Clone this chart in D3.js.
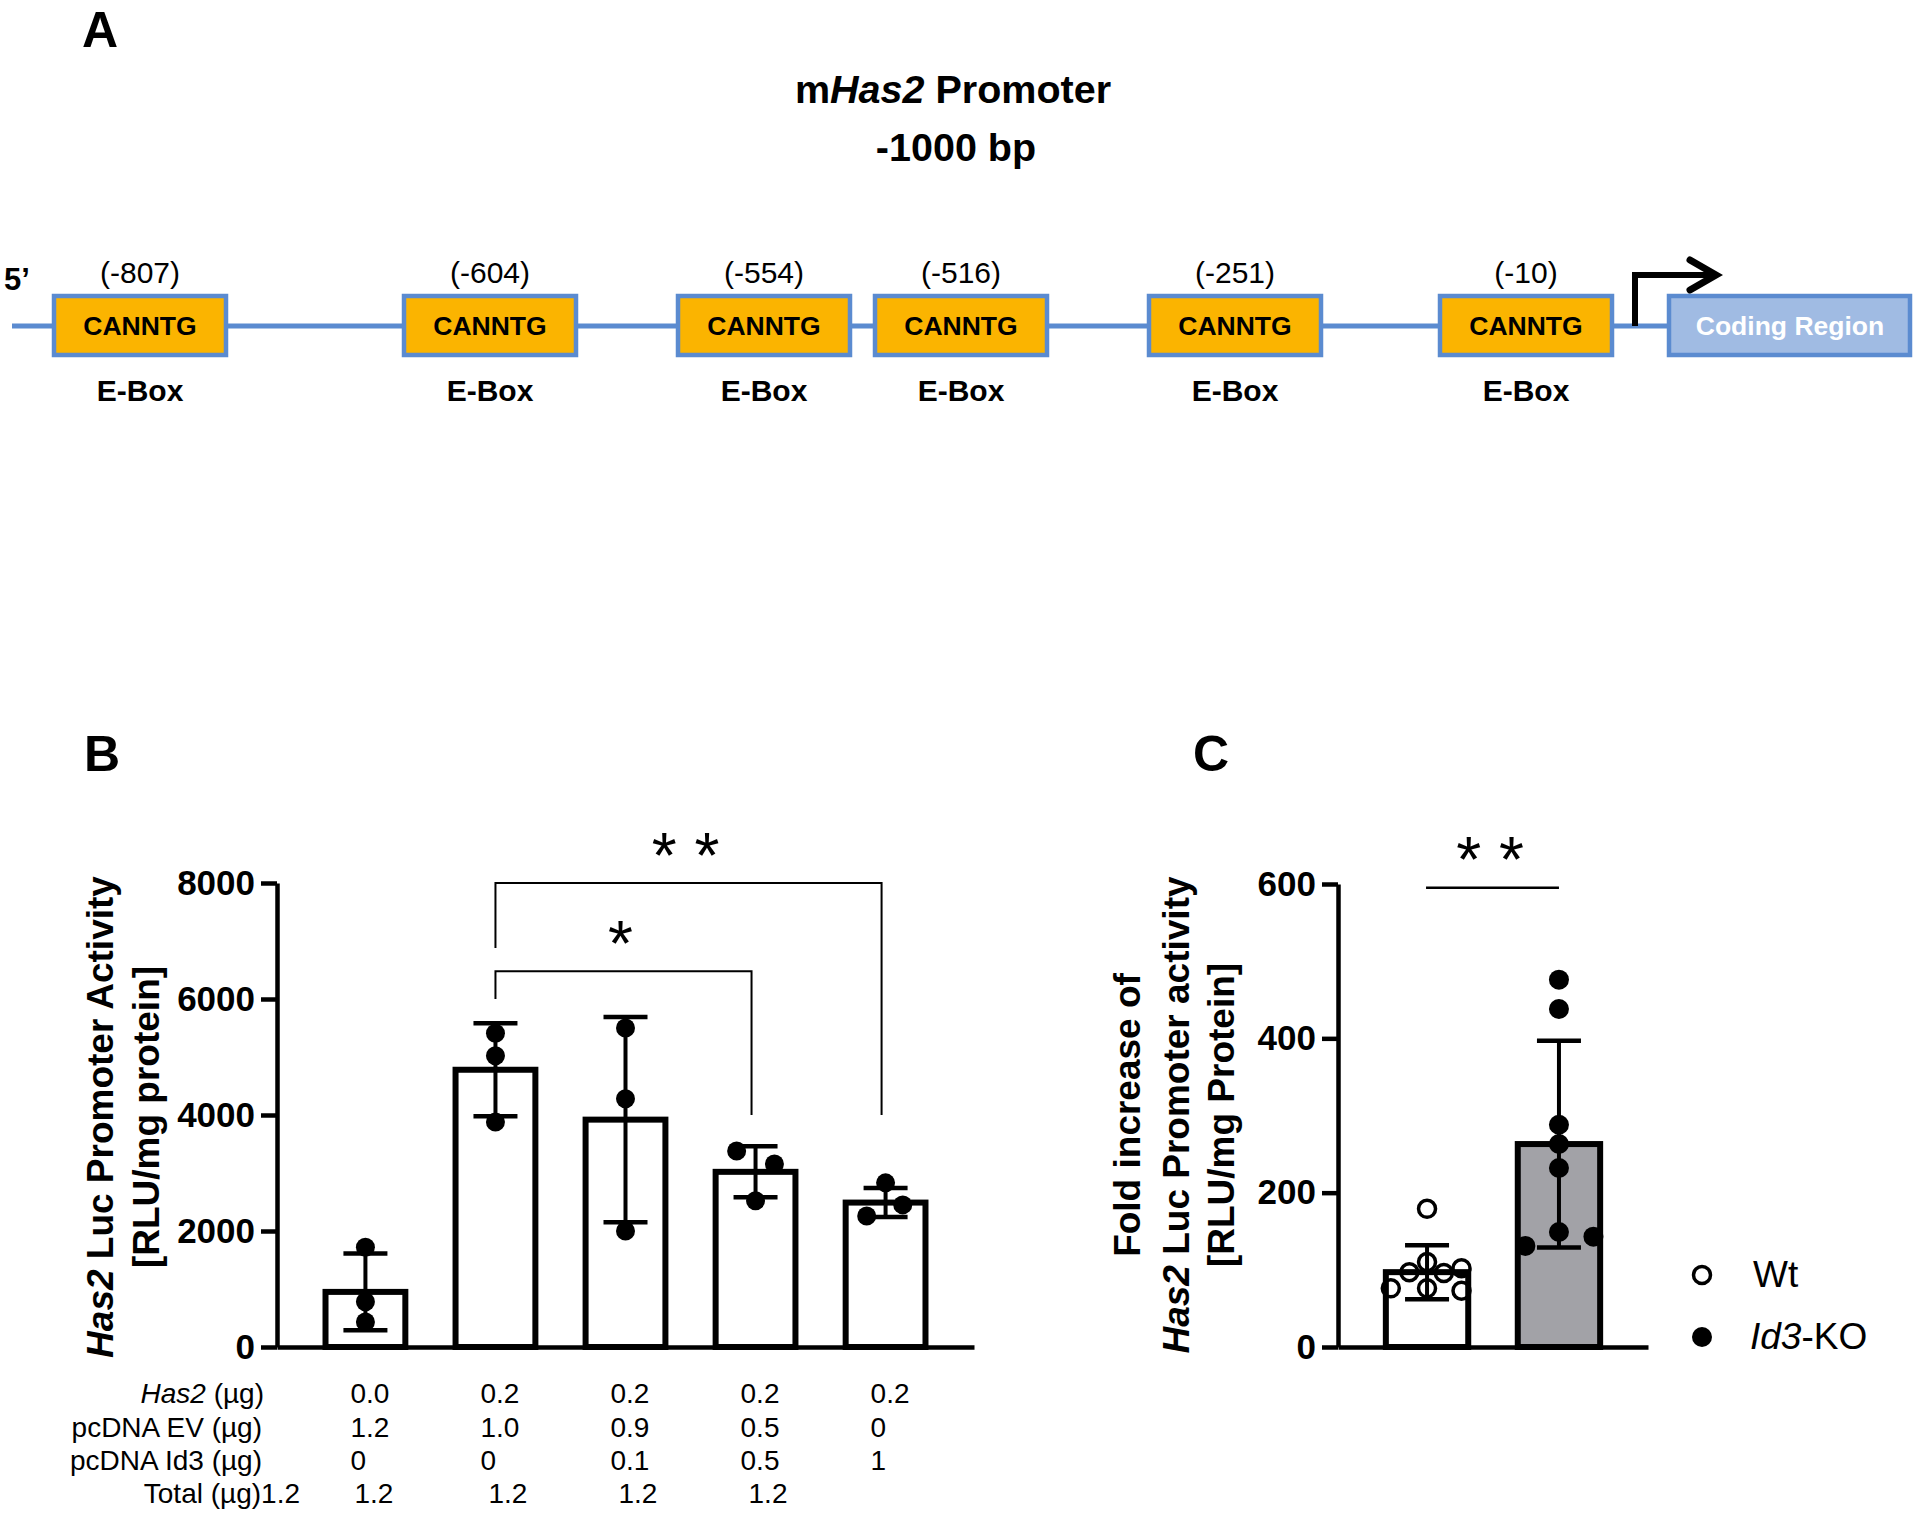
<!DOCTYPE html>
<html>
<head>
<meta charset="utf-8">
<script src="https://cdn.jsdelivr.net/npm/d3@7"></script>
<style>
  html, body { margin: 0; padding: 0; background: #fff; }
  svg { display: block; font-family: "Liberation Sans", Arial, Helvetica, sans-serif; }
</style>
</head>
<body>
<svg id="fig" width="1920" height="1518"></svg>
<script>
// ---------------- DATA ----------------
// Panel A: E-box positions on the mHas2 promoter (bp upstream)
const eboxPositions = [-807, -604, -554, -516, -251, -10];
const eboxLabels = ["(-807)", "(-604)", "(-554)", "(-516)", "(-251)", "(-10)"];
const eboxSequence = "CANNTG";

// Panel B: promoter activity (RLU/mg protein)
const conditionsB = ["cond1", "cond2", "cond3", "cond4", "cond5"];
const meansB = [950, 4780, 3920, 3020, 2490];
const sdB = [660, 800, 1770, 440, 250];
const pointsB = [
  [1720, 780, 430],
  [5410, 5020, 3880],
  [5500, 4280, 2000],
  [3380, 3155, 2520],
  [2830, 2450, 2260]
];
const jitterB = [
  [0, 0, 0],
  [0, 0, 0],
  [0, 0, 0],
  [-0.22, 0.22, 0],
  [0, 0.2, -0.22]
];
const yTicksB = [0, 2000, 4000, 6000, 8000];
const bracketsB = [
  { from: 1, to: 4, top: 8000, leftEnd: 6880, rightEnd: 4000, label: "* *" },
  { from: 1, to: 3, top: 6480, leftEnd: 6000, rightEnd: 4000, label: "*" }
];
const tableRowLabels = ["Has2 (µg)", "pcDNA EV (µg)", "pcDNA Id3 (µg)", "Total (µg)1.2"];
const tableHas2 = ["0.0", "0.2", "0.2", "0.2", "0.2"];
const tableEV = ["1.2", "1.0", "0.9", "0.5", "0"];
const tableId3 = ["0", "0", "0.1", "0.5", "1"];
const tableTotal = ["1.2", "1.2", "1.2", "1.2"];

// Panel C: fold increase
const groupsC = ["Wt", "Id3-KO"];
const meansC = [97, 263];
const sdC = [35, 134];
const pointsC = [
  [179, 97, 110, 96, 102, 76, 76, 73],
  [476, 438, 288, 263, 232, 149, 131, 143]
];
const jitterC = [
  [0, -0.2, 0, 0.19, 0.39, -0.41, 0, 0.39],
  [0, 0, 0, 0, 0, 0, -0.38, 0.39]
];
const yTicksC = [0, 200, 400, 600];
const sigC = { from: 0, to: 1, y: 595, label: "* *" };

// ---------------- DRAW ----------------
const svg = d3.select("#fig");
const BLUE = "#5B8BD0";
const ORANGE = "#FBB400";

// ===== Panel A =====
const gA = svg.append("g");
gA.append("text").attr("x", 82).attr("y", 47).attr("font-size", 50).attr("font-weight", "bold").text("A");

const t1 = gA.append("text").attr("x", 953).attr("y", 103).attr("text-anchor", "middle")
  .attr("font-size", 39.5).attr("font-weight", "bold");
t1.append("tspan").text("m");
t1.append("tspan").attr("font-style", "italic").text("Has2");
t1.append("tspan").text(" Promoter");
gA.append("text").attr("x", 956).attr("y", 161).attr("text-anchor", "middle")
  .attr("font-size", 39.5).attr("font-weight", "bold").text("-1000 bp");

// schematic (not to scale) layout of E-box slots along the promoter
const xA = d3.scaleLinear().domain(eboxPositions).range([140, 490, 764, 961, 1235, 1526]);
const boxW = 172, boxTop = 296, boxH = 59, lineY = 326;

gA.append("line").attr("x1", 12).attr("x2", 1668).attr("y1", lineY).attr("y2", lineY)
  .attr("stroke", BLUE).attr("stroke-width", 5);

gA.append("text").attr("x", 4).attr("y", 290).attr("font-size", 31).attr("font-weight", "bold").text("5’");

const eb = gA.selectAll("g.ebox").data(eboxPositions).join("g").attr("class", "ebox");
eb.append("rect")
  .attr("x", d => xA(d) - boxW / 2).attr("y", boxTop).attr("width", boxW).attr("height", boxH)
  .attr("fill", ORANGE).attr("stroke", BLUE).attr("stroke-width", 4.5);
eb.append("text").attr("x", d => xA(d)).attr("y", boxTop + boxH / 2 + 9.5).attr("text-anchor", "middle")
  .attr("font-size", 26.5).attr("font-weight", "bold").text(eboxSequence);
eb.append("text").attr("x", d => xA(d)).attr("y", 283).attr("text-anchor", "middle")
  .attr("font-size", 30).text((d, i) => eboxLabels[i]);
eb.append("text").attr("x", d => xA(d)).attr("y", 401).attr("text-anchor", "middle")
  .attr("font-size", 30).attr("font-weight", "bold").text("E-Box");

// transcription start arrow
gA.append("path").attr("d", "M1635,326 V275 H1716").attr("fill", "none")
  .attr("stroke", "#000").attr("stroke-width", 6);
gA.append("path").attr("d", "M1690,260 L1716,275 L1690,290").attr("fill", "none")
  .attr("stroke", "#000").attr("stroke-width", 7).attr("stroke-linecap", "round").attr("stroke-linejoin", "miter");

// coding region
gA.append("rect").attr("x", 1669).attr("y", boxTop).attr("width", 241).attr("height", boxH)
  .attr("fill", "#A0BBE3").attr("stroke", BLUE).attr("stroke-width", 4.5);
gA.append("text").attr("x", 1790).attr("y", boxTop + boxH / 2 + 9.5).attr("text-anchor", "middle")
  .attr("font-size", 26.5).attr("font-weight", "bold").attr("fill", "#fff").text("Coding Region");

// ===== Panel B =====
const gB = svg.append("g");
gB.append("text").attr("x", 84).attr("y", 771).attr("font-size", 50).attr("font-weight", "bold").text("B");

const xB = d3.scaleBand().domain(conditionsB).range([277, 974]).paddingInner(0.34).paddingOuter(0.35);
const yB = d3.scaleLinear().domain([0, 8000]).range([1347, 883]);

function styleAxis(g) {
  g.select(".domain").attr("stroke", "#000").attr("stroke-width", 4.5);
  g.selectAll(".tick line").attr("stroke", "#000").attr("stroke-width", 4.5);
  g.selectAll(".tick text").attr("fill", "#000").attr("font-size", 35).attr("font-weight", "bold")
    .attr("font-family", "'Liberation Sans', Arial, sans-serif");
}

const axB = gB.append("g").attr("transform", "translate(277,0)")
  .call(d3.axisLeft(yB).tickValues(yTicksB).tickSize(16).tickSizeOuter(0).tickPadding(6).tickFormat(d3.format("d")));
styleAxis(axB);
const axBx = gB.append("g").attr("transform", `translate(0,${yB(0)})`)
  .call(d3.axisBottom(xB).tickValues([]).tickSizeOuter(0));
styleAxis(axBx);

const bwB = xB.bandwidth();
const cB = i => xB(conditionsB[i]) + bwB / 2;

gB.selectAll("rect.bar").data(meansB).join("rect").attr("class", "bar")
  .attr("x", (d, i) => cB(i) - (bwB - 6) / 2).attr("width", bwB - 6)
  .attr("y", d => yB(d)).attr("height", d => yB(0) - yB(d))
  .attr("fill", "#fff").attr("stroke", "#000").attr("stroke-width", 6);

function errBars(g, means, sds, cx, y, capW) {
  means.forEach((m, i) => {
    const x = cx(i);
    g.append("line").attr("x1", x).attr("x2", x).attr("y1", y(m - sds[i])).attr("y2", y(m + sds[i]))
      .attr("stroke", "#000").attr("stroke-width", 4);
    [m - sds[i], m + sds[i]].forEach(v => {
      g.append("line").attr("x1", x - capW / 2).attr("x2", x + capW / 2).attr("y1", y(v)).attr("y2", y(v))
        .attr("stroke", "#000").attr("stroke-width", 4.5);
    });
  });
}
errBars(gB, meansB, sdB, cB, yB, 44);

pointsB.forEach((arr, i) => {
  gB.selectAll(null).data(arr).join("circle")
    .attr("cx", (d, j) => cB(i) + jitterB[i][j] * bwB).attr("cy", d => yB(d)).attr("r", 9.5)
    .attr("fill", "#000");
});

// significance brackets
bracketsB.forEach(b => {
  const x1 = cB(b.from), x2 = cB(b.to) - 4;
  gB.append("path")
    .attr("d", `M${x1},${yB(b.leftEnd)} V${yB(b.top)} H${x2} V${yB(b.rightEnd)}`)
    .attr("fill", "none").attr("stroke", "#000").attr("stroke-width", 2);
  gB.append("text").attr("x", (x1 + x2) / 2 - 3).attr("y", yB(b.top) - 5)
    .attr("text-anchor", "middle").attr("font-size", 64).text(b.label);
});

// table under panel B
const rowBase = [1403, 1437, 1470, 1503];
const rowVals = [tableHas2, tableEV, tableId3];
const lab0 = gB.append("text").attr("x", 264).attr("y", rowBase[0]).attr("text-anchor", "end").attr("font-size", 28);
lab0.append("tspan").attr("font-style", "italic").text("Has2");
lab0.append("tspan").text(" (µg)");
gB.append("text").attr("x", 262).attr("y", rowBase[1]).attr("text-anchor", "end").attr("font-size", 28).text(tableRowLabels[1]);
gB.append("text").attr("x", 262).attr("y", rowBase[2]).attr("text-anchor", "end").attr("font-size", 28).text(tableRowLabels[2]);
gB.append("text").attr("x", 300).attr("y", rowBase[3]).attr("text-anchor", "end").attr("font-size", 28).text(tableRowLabels[3]);
rowVals.forEach((vals, r) => {
  gB.selectAll(null).data(vals).join("text")
    .attr("x", (d, i) => cB(i) - 15).attr("y", rowBase[r]).attr("font-size", 28).text(d => d);
});
gB.selectAll(null).data(tableTotal).join("text")
  .attr("x", (d, i) => cB(i) - (i === 0 ? 11 : 7)).attr("y", rowBase[3]).attr("font-size", 28).text(d => d);

// y title B
const tB = gB.append("g").attr("transform", "translate(100,1117) rotate(-90)");
const tB1 = tB.append("text").attr("text-anchor", "middle").attr("dominant-baseline", "central")
  .attr("font-size", 37).attr("font-weight", "bold");
tB1.append("tspan").attr("font-style", "italic").text("Has2");
tB1.append("tspan").text(" Luc Promoter Activity");
tB.append("text").attr("y", 46).attr("text-anchor", "middle").attr("dominant-baseline", "central")
  .attr("font-size", 37).attr("font-weight", "bold").text("[RLU/mg protein]");

// ===== Panel C =====
const gC = svg.append("g");
gC.append("text").attr("x", 1193).attr("y", 771).attr("font-size", 50).attr("font-weight", "bold").text("C");

const xC = d3.scaleBand().domain(groupsC).range([1338, 1648]).paddingInner(0.33).paddingOuter(0.34);
const yC = d3.scaleLinear().domain([0, 600]).range([1347, 884]);

const axC = gC.append("g").attr("transform", "translate(1338,0)")
  .call(d3.axisLeft(yC).tickValues(yTicksC).tickSize(16).tickSizeOuter(0).tickPadding(6).tickFormat(d3.format("d")));
styleAxis(axC);
const axCx = gC.append("g").attr("transform", `translate(0,${yC(0)})`)
  .call(d3.axisBottom(xC).tickValues([]).tickSizeOuter(0));
styleAxis(axCx);

const bwC = xC.bandwidth();
const cC = i => xC(groupsC[i]) + bwC / 2;
const fillC = ["#fff", "#A2A2A7"];

gC.selectAll("rect.bar").data(meansC).join("rect").attr("class", "bar")
  .attr("x", (d, i) => cC(i) - (bwC - 6) / 2).attr("width", bwC - 6)
  .attr("y", d => yC(d)).attr("height", d => yC(0) - yC(d))
  .attr("fill", (d, i) => fillC[i]).attr("stroke", "#000").attr("stroke-width", 6);

errBars(gC, meansC, sdC, cC, yC, 44);

pointsC[0].forEach((v, j) => {
  gC.append("circle").attr("cx", cC(0) + jitterC[0][j] * bwC).attr("cy", yC(v)).attr("r", 8.5)
    .attr("fill", "none").attr("stroke", "#000").attr("stroke-width", 3.5);
});
pointsC[1].forEach((v, j) => {
  gC.append("circle").attr("cx", cC(1) + jitterC[1][j] * bwC).attr("cy", yC(v)).attr("r", 10)
    .attr("fill", "#000");
});

// significance C
gC.append("line").attr("x1", cC(sigC.from) - 1).attr("x2", cC(sigC.to)).attr("y1", yC(sigC.y)).attr("y2", yC(sigC.y))
  .attr("stroke", "#000").attr("stroke-width", 2.5);
gC.append("text").attr("x", (cC(0) + cC(1)) / 2 - 3).attr("y", yC(sigC.y) - 6).attr("text-anchor", "middle")
  .attr("font-size", 64).text(sigC.label);

// y title C
const tC = gC.append("g").attr("transform", "translate(1127,1115) rotate(-90)");
tC.append("text").attr("text-anchor", "middle").attr("dominant-baseline", "central")
  .attr("font-size", 37).attr("font-weight", "bold").text("Fold increase of");
const tC2 = tC.append("text").attr("y", 49).attr("text-anchor", "middle").attr("dominant-baseline", "central")
  .attr("font-size", 37).attr("font-weight", "bold");
tC2.append("tspan").attr("font-style", "italic").text("Has2");
tC2.append("tspan").text(" Luc Promoter activity");
tC.append("text").attr("y", 94).attr("text-anchor", "middle").attr("dominant-baseline", "central")
  .attr("font-size", 37).attr("font-weight", "bold").text("[RLU/mg Protein]");

// legend
const legY = [1275, 1337];
gC.append("circle").attr("cx", 1702).attr("cy", legY[0]).attr("r", 8.5).attr("fill", "none")
  .attr("stroke", "#000").attr("stroke-width", 3.5);
gC.append("circle").attr("cx", 1702).attr("cy", legY[1]).attr("r", 10).attr("fill", "#000");
gC.append("text").attr("x", 1753).attr("y", legY[0] + 12).attr("font-size", 37).text(groupsC[0]);
const lk = gC.append("text").attr("x", 1750).attr("y", legY[1] + 12).attr("font-size", 37);
lk.append("tspan").attr("font-style", "italic").text("Id3");
lk.append("tspan").text("-KO");
</script>
</body>
</html>
